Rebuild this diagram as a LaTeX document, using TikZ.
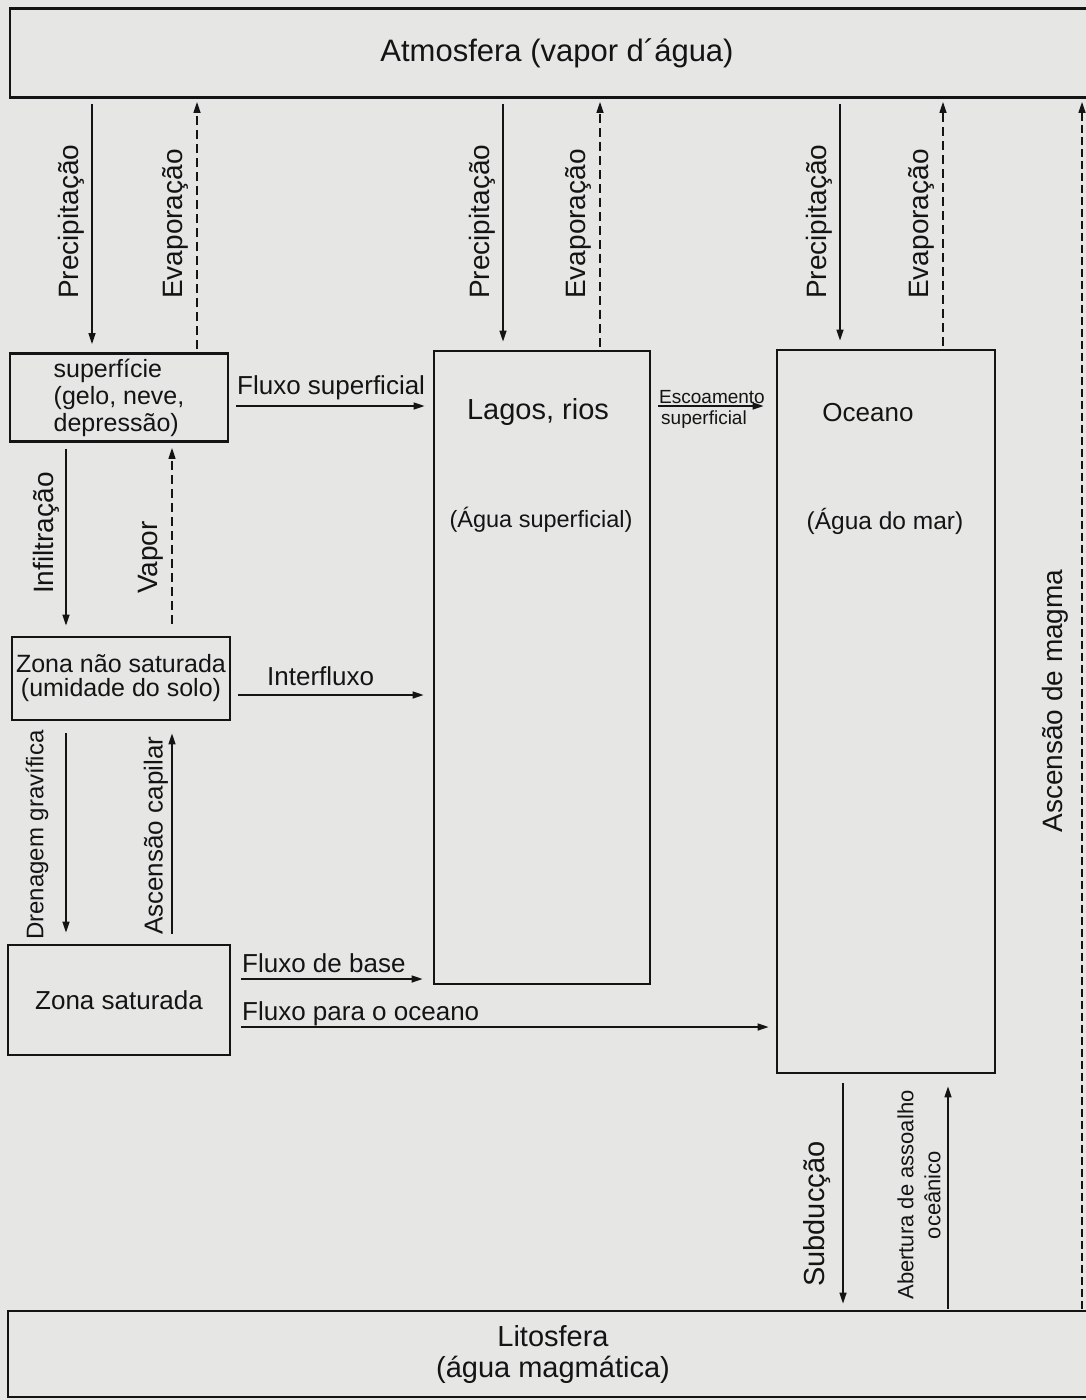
\documentclass[tikz,border=0pt]{standalone}
\usepackage{fontspec}
\setmainfont{Liberation Sans}
\usetikzlibrary{arrows.meta,positioning}

\definecolor{paper}{HTML}{E6E7E5}
\definecolor{ink}{HTML}{141414}

\tikzset{
  box/.style={draw=ink, line width=2.8pt, inner sep=0pt, text=ink,
    font=\fontsize{26}{28}\selectfont},
  flow/.style={draw=ink, line width=1.5pt, -{Triangle[length=11pt,width=7pt]}},
  vapourflow/.style={flow, dash pattern=on 9pt off 5pt},
  uplabel/.style={rotate=90, anchor=west, inner sep=0pt, text=ink,
    font=\fontsize{28}{30}\selectfont},
  flowlabel/.style={anchor=west, inner sep=0pt, text=ink,
    font=\fontsize{26}{28}\selectfont},
  boxtext/.style={inner sep=0pt, text=ink},
}

\begin{document}
\begin{tikzpicture}[x=1pt,y=-1pt]
    \fill[paper] (0,0) rectangle (1086,1400);
    \useasboundingbox (0,0) rectangle (1086,1400);
    \clip (0,0) rectangle (1086,1400);

    % reservatorios
    \node[box, minimum width=1094pt, minimum height=89pt,
      font=\fontsize{31}{34}\selectfont] (atm) at (557,53) {Atmosfera (vapor d´água)};
    \node[box, minimum width=1090pt, minimum height=86pt, align=center,
      font=\fontsize{29}{31}\selectfont] (lito) at (553,1354) {Litosfera\\(água magmática)};

    \node[box, minimum width=218pt, minimum height=88pt, align=left,
      font=\fontsize{25}{27}\selectfont] (sup) at (119,397.5) {superfície\\(gelo, neve,\\depressão)};
    \node[box, minimum width=218pt, minimum height=83pt, align=center,
      font=\fontsize{25}{24}\selectfont] (zns) at (121,678.5) {Zona não saturada\\(umidade do solo)};
    \node[box, minimum width=222pt, minimum height=110pt] (zs) at (119,1000) {Zona saturada};

    \node[box, minimum width=216pt, minimum height=633pt] (lagos) at (542,667.5) {};
    \node[boxtext, font=\fontsize{29}{31}\selectfont] (lagos_title) at (538,412) {Lagos, rios};
    \node[boxtext, font=\fontsize{23.5}{26}\selectfont] (lagos_sub) at (541,520) {(Água superficial)};

    \node[box, minimum width=218pt, minimum height=723pt] (oceano) at (886,711.5) {};
    \node[boxtext, font=\fontsize{26}{28}\selectfont] (oceano_title) at (868,413) {Oceano};
    \node[boxtext, font=\fontsize{24.5}{26}\selectfont] (oceano_sub) at (885,521) {(Água do mar)};

    % atmosfera <-> superficie
    \foreach \px/\ex/\dest [count=\i] in {92/197/sup, 503/600/lagos, 840/943/oceano} {
      \coordinate (precip_\i) at (\px,0);
      \coordinate (evap_\i) at (\ex,0);
      \draw[flow, shorten <=5pt, shorten >=8pt] (atm.south -| precip_\i) -- (\dest.north -| precip_\i);
      \draw[vapourflow, shorten <=3pt, shorten >=3pt] (\dest.north -| evap_\i) -- (atm.south -| evap_\i);
      \node[uplabel] (precip_label_\i) at (\px-21,299) {Precipitação};
      \node[uplabel] (evap_label_\i) at (\ex-22,299) {Evaporação};
    }

    % coluna da esquerda
    \coordinate (down_col) at (66,0);
    \coordinate (up_col) at (172,0);
    \draw[flow, shorten <=6pt, shorten >=10pt] (sup.south -| down_col) -- (zns.north -| down_col);
    \draw[vapourflow, shorten <=12pt, shorten >=5pt] (zns.north -| up_col) -- (sup.south -| up_col);
    \node[uplabel] (infil_label) at (46,594) {Infiltração};
    \node[uplabel] (vapor_label) at (151,594) {Vapor};

    \draw[flow, shorten <=12pt, shorten >=11pt] (zns.south -| down_col) -- (zs.north -| down_col);
    \draw[flow, shorten <=10pt, shorten >=12pt] (zs.north -| up_col) -- (zns.south -| up_col);
    \node[uplabel, font=\fontsize{24}{26}\selectfont] (dren_label) at (37,940) {Drenagem gravífica};
    \node[uplabel, font=\fontsize{26}{28}\selectfont] (capilar_label) at (156,935) {Ascensão capilar};

    % fluxos horizontais
    \coordinate (fs) at ([yshift=-8.5pt]sup.east);
    \draw[flow, shorten <=7pt, shorten >=8pt] (fs) -- (fs -| lagos.west);
    \node[flowlabel] (fs_label) at (237,388) {Fluxo superficial};

    \coordinate (esc) at (lagos.east |- fs);
    \draw[flow, shorten <=7pt, shorten >=12pt] (esc) -- (esc -| oceano.west);
    \node[boxtext, font=\fontsize{19}{20}\selectfont] (esc_label) at (712,397) {Escoamento};
    \node[boxtext, font=\fontsize{19}{20}\selectfont] (esc_label_b) at (704,420) {superficial};

    \coordinate (inter) at ([yshift=-16.5pt]zns.east);
    \draw[flow, shorten <=7pt, shorten >=9pt] (inter) -- (inter -| lagos.west);
    \node[flowlabel] (inter_label) at (267,676) {Interfluxo};

    \coordinate (base) at ([yshift=21pt]zs.east);
    \draw[flow, shorten <=10pt, shorten >=10pt] (base) -- (base -| lagos.west);
    \node[flowlabel] (base_label) at (242,963) {Fluxo de base};

    \coordinate (mar) at ([yshift=-27pt]zs.east);
    \draw[flow, shorten <=10pt, shorten >=7pt] (mar) -- (mar -| oceano.west);
    \node[flowlabel] (mar_label) at (242,1014) {Fluxo para o oceano};

    % oceano <-> litosfera
    \coordinate (subd_col) at (843,0);
    \coordinate (abert_col) at (948,0);
    \draw[flow, shorten <=9pt, shorten >=6pt] (oceano.south -| subd_col) -- (lito.north -| subd_col);
    \draw[flow, shorten <=1pt, shorten >=12pt] (lito.north -| abert_col) -- (oceano.south -| abert_col);
    \node[uplabel, font=\fontsize{29}{31}\selectfont] (subd_label) at (817,1287) {Subducção};
    \node[uplabel, anchor=center, align=center, font=\fontsize{22}{27}\selectfont]
      (abert_label) at (919,1195) {Abertura de assoalho\\oceânico};

    % magma
    \coordinate (magma_col) at (1082,0);
    \draw[vapourflow, dash pattern=on 8pt off 4pt, shorten <=1pt, shorten >=3pt]
      (lito.north -| magma_col) -- (atm.south -| magma_col);
    \node[uplabel, anchor=center] (magma_label) at (1055,701) {Ascensão de magma};
\end{tikzpicture}
\end{document}
